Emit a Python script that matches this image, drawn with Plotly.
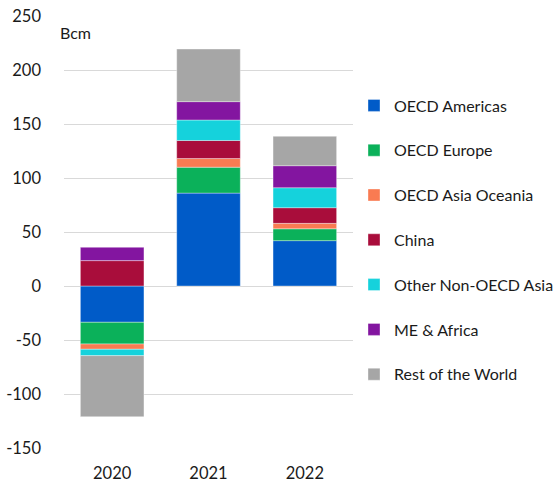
import plotly.graph_objects as go

years = ["2020", "2021", "2022"]
regions = ["OECD Americas", "OECD Europe", "OECD Asia Oceania", "China",
           "Other Non-OECD Asia", "ME & Africa", "Rest of the World"]
oecd_americas = [-33.6, 86.0, 42.0]
oecd_europe = [-20.1, 24.0, 11.0]
oecd_asia_oceania = [-4.9, 8.0, 5.0]
china = [23.5, 16.7, 14.5]
other_non_oecd_asia = [-5.9, 19.0, 18.5]
me_africa = [12.3, 17.0, 20.4]
rest_of_world = [-56.5, 48.7, 27.2]
y_tick_values = [-150, -100, -50, 0, 50, 100, 150, 200, 250]
y_tick_labels = ["-150", "-100", "-50", "0", "50", "100", "150", "200", "250"]
colors = ["#005BC8", "#0BB15A", "#F97B52", "#A90D3B", "#15D2DC", "#8315A0", "#A6A6A6"]

series = [oecd_americas, oecd_europe, oecd_asia_oceania, china,
          other_non_oecd_asia, me_africa, rest_of_world]

font = "Lato, Carlito, Calibri, sans-serif"
txt = "#1a1a1a"
fig = go.Figure()
for name, vals, col in zip(regions, series, colors):
    fig.add_trace(go.Bar(
        x=years, y=vals, name=name, legendgroup=name,
        marker=dict(color=col, line=dict(color="rgba(255,255,255,0.6)", width=0.6)),
    ))

fig.update_layout(
    barmode="relative",
    bargap=0.34,
    width=559, height=482,
    margin=dict(l=64, r=206, t=16, b=34, autoexpand=False),
    plot_bgcolor="white", paper_bgcolor="white",
    font=dict(family=font, size=16.5, color=txt),
    showlegend=True,
    legend=dict(
        xref="container", x=354 / 559, xanchor="left",
        yref="container", y=1 - 240 / 482, yanchor="middle",
        maxheight=1,
        traceorder="grouped", tracegroupgap=21,
        font=dict(family=font, size=16, color=txt),
        itemwidth=30,
    ),
    xaxis=dict(showgrid=False, showline=False, ticks="", ticklabelstandoff=13,
               automargin=False),
    yaxis=dict(range=[-150, 250], tickvals=y_tick_values, ticktext=y_tick_labels,
               showgrid=True, gridcolor="#D9D9D9",
               gridwidth=1.2, zeroline=True, zerolinecolor="#D9D9D9", zerolinewidth=1.2,
               showline=False, ticks="", ticklabelstandoff=22, automargin=False),
    annotations=[dict(text="Bcm", x=0, xref="paper", xanchor="left", xshift=-6,
                      y=1, yref="paper", yanchor="middle", yshift=-16,
                      showarrow=False,
                      font=dict(family=font, size=16, color=txt))],
)
fig.write_html("out.html")
